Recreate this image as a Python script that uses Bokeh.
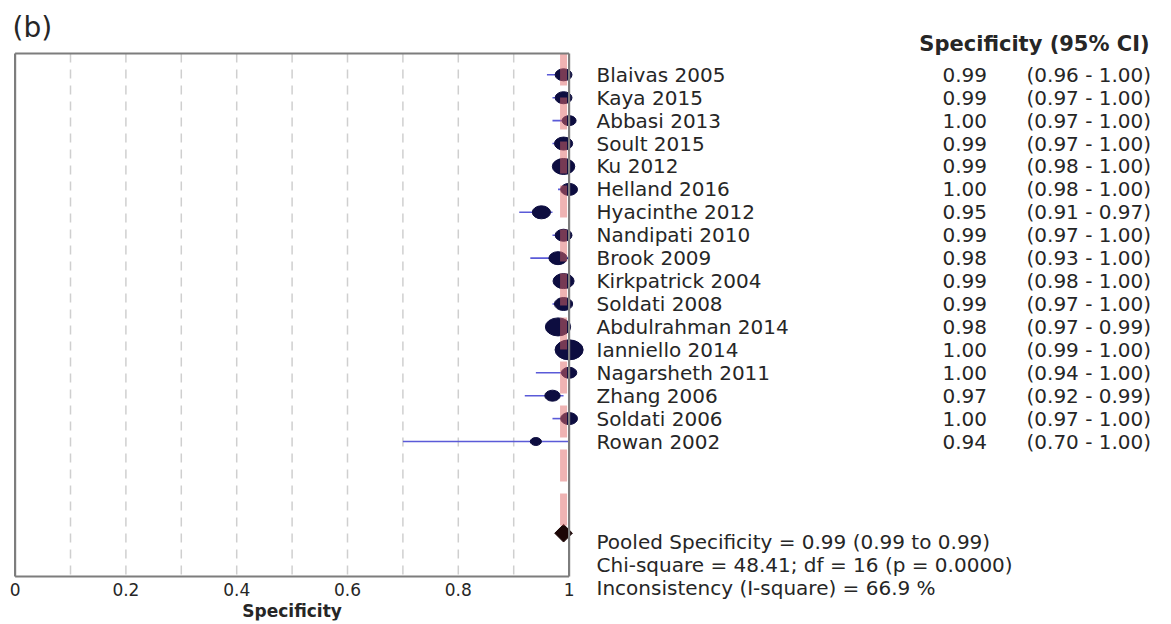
import math
from bokeh.plotting import figure
from bokeh.models import Range1d, FixedTicker, ColumnDataSource
from bokeh.embed import file_html
from bokeh.resources import INLINE
from bokeh.core.properties import value

# ---------------- data ----------------
STUDIES = ["Blaivas 2005", "Kaya 2015", "Abbasi 2013", "Soult 2015", "Ku 2012",
           "Helland 2016", "Hyacinthe 2012", "Nandipati 2010", "Brook 2009",
           "Kirkpatrick 2004", "Soldati 2008", "Abdulrahman 2014", "Ianniello 2014",
           "Nagarsheth 2011", "Zhang 2006", "Soldati 2006", "Rowan 2002"]
SPEC = [0.99, 0.99, 1.00, 0.99, 0.99, 1.00, 0.95, 0.99, 0.98, 0.99, 0.99, 0.98,
        1.00, 1.00, 0.97, 1.00, 0.94]
LOWER = [0.96, 0.97, 0.97, 0.97, 0.98, 0.98, 0.91, 0.97, 0.93, 0.98, 0.97, 0.97,
         0.99, 0.94, 0.92, 0.97, 0.70]
UPPER = [1.00, 1.00, 1.00, 1.00, 1.00, 1.00, 0.97, 1.00, 1.00, 1.00, 1.00, 0.99,
         1.00, 1.00, 0.99, 1.00, 1.00]
WEIGHT = [4.8, 4.8, 3.3, 5.6, 8.5, 4.8, 5.6, 4.8, 5.6, 7.5, 5.6, 10.8, 13.3,
          4.0, 4.0, 4.8, 2.1]
POOLED = 0.99
POOLED_LO = 0.99
POOLED_HI = 0.99
CHI2 = 48.41
DF = 16
P_VALUE = "0.0000"
I2 = 66.9
X_TICKS = [0, 0.2, 0.4, 0.6, 0.8, 1]
X_TICK_LABELS = ["0", "0.2", "0.4", "0.6", "0.8", "1"]
GRID_TICKS = [0.1, 0.2, 0.3, 0.4, 0.5, 0.6, 0.7, 0.8, 0.9]
X_TITLE = "Specificity"

# ---------------- layout constants (page pixels) ----------------
FONT = "DejaVu Sans"
TXT = "#262626"
W, H = 1171, 624
X0_PX, X1_PX = 14.6, 568.6
PXU = X1_PX - X0_PX
ROW0_PX, ROW_PX = 74.3, 22.92
FRAME_L, FRAME_R = 12, W
FRAME_T, FRAME_B = 0, 620
BOX_T, BOX_B = 53, 576


def yrow(px):
    return (px - ROW0_PX) / ROW_PX


def xd(px):
    return (px - X0_PX) / PXU


n = len(STUDIES)
rows = list(range(n))
pooled_row = n + 3

p = figure(width=W, height=H, output_backend="svg", toolbar_location=None,
           x_range=Range1d(xd(FRAME_L), xd(FRAME_R)),
           y_range=Range1d(yrow(FRAME_B), yrow(FRAME_T)),
           y_axis_location=None,
           min_border_left=FRAME_L, min_border_right=0,
           min_border_top=0, min_border_bottom=H - FRAME_B)
p.outline_line_color = None
p.xgrid.visible = False
p.ygrid.visible = False

ax = p.xaxis[0]
ax.ticker = FixedTicker(ticks=X_TICKS)
ax.major_label_overrides = {t: l for t, l in zip(X_TICKS, X_TICK_LABELS)}
ax.axis_line_color = None
ax.major_tick_line_color = None
ax.minor_tick_line_color = None
ax.major_tick_out = 0
ax.major_tick_in = 0
ax.major_label_standoff = -38
ax.major_label_text_font = FONT
ax.major_label_text_font_size = "17px"
ax.major_label_text_color = TXT

yb_t, yb_b = yrow(BOX_T), yrow(BOX_B)

# dashed vertical grid lines inside the box
p.segment(x0=GRID_TICKS, x1=GRID_TICKS, y0=[yb_t] * len(GRID_TICKS),
          y1=[yb_b] * len(GRID_TICKS), line_color="#cfcfcf", line_width=1.5,
          line_dash="9 7")

# CI lines and study markers
src = ColumnDataSource(dict(y=rows, spec=SPEC, lo=LOWER, hi=UPPER,
                            eh=[5.48 * math.sqrt(w) for w in WEIGHT],
                            ew=[7.7 * math.sqrt(w) for w in WEIGHT]))
p.segment(x0="lo", x1="hi", y0="y", y1="y", source=src,
          line_color="#5a5ad8", line_width=1.6)
p.ellipse(x="spec", y="y", width="ew", height="eh", source=src,
          width_units="screen", height_units="screen",
          fill_color="#0d0d40", line_color="#0d0d40")

# pooled diamond
p.scatter(x=[POOLED], y=[pooled_row], marker="square", size=12.5,
          angle=math.pi / 4, fill_color="#1c0606", line_color="#1c0606")

# pooled dashed line
p.segment(x0=[POOLED], x1=[POOLED], y0=[yb_t], y1=[pooled_row],
          line_color="#e06868", line_alpha=0.5, line_width=7, line_dash="32 12")

# box
BOXC = "#7d7d7d"
p.segment(x0=[0, 0, 0, 1], x1=[1, 1, 0, 1], y0=[yb_t, yb_b, yb_t, yb_t],
          y1=[yb_t, yb_b, yb_b, yb_b], line_color=BOXC, line_width=2.2)

# axis title, centred under the 0..1 axis
p.text(x=[0.5], y=[yrow(610)], text=[X_TITLE], text_align="center",
       text_baseline="middle", text_font=value(FONT), text_font_size="17px",
       text_font_style="bold", text_color=TXT)

# panel label
p.text(x=[xd(12)], y=[yrow(27)], text=["(b)"], text_align="left",
       text_baseline="middle", text_font=value(FONT), text_font_size="28px",
       text_color=TXT)

# ---------------- right text table ----------------
common = dict(text_font=value(FONT), text_font_size="20px", text_color=TXT,
              text_baseline="middle")
p.text(x=[xd(596)] * n, y=rows, text=STUDIES, text_align="left", **common)
p.text(x=[xd(942)] * n, y=rows, text=[f"{v:.2f}" for v in SPEC],
       text_align="left", **common)
p.text(x=[xd(1026)] * n, y=rows,
       text=[f"({a:.2f} - {b:.2f})" for a, b in zip(LOWER, UPPER)],
       text_align="left", **common)
p.text(x=[xd(1034)], y=[yrow(43)], text=["Specificity (95% CI)"],
       text_align="center", text_font=value(FONT), text_font_size="21px",
       text_font_style="bold", text_color=TXT, text_baseline="middle")

summary = [f"Pooled Specificity = {POOLED:.2f} ({POOLED_LO:.2f} to {POOLED_HI:.2f})",
           f"Chi-square = {CHI2:.2f}; df =  {DF} (p = {P_VALUE})",
           f"Inconsistency (I-square) = {I2:.1f} %"]
p.text(x=[xd(596)] * 3, y=[pooled_row + 0.4, pooled_row + 1.4, pooled_row + 2.4],
       text=summary, text_align="left", **common)

open("out.html", "w").write(file_html(p, INLINE))
